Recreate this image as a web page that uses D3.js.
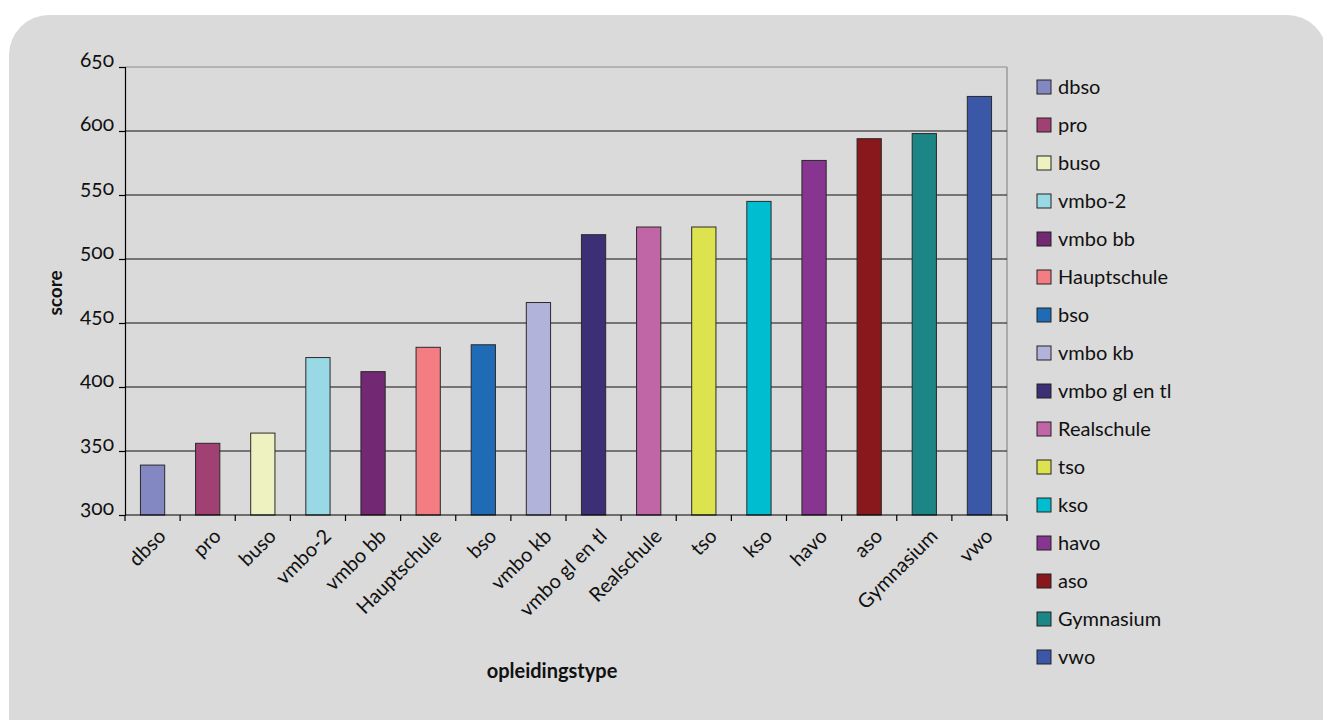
<!DOCTYPE html>
<html>
<head>
<meta charset="utf-8">
<script src="https://cdn.jsdelivr.net/npm/d3@7"></script>
<style>
  html, body { margin: 0; padding: 0; background: #ffffff; }
  svg { display: block; font-family: Lato, "Open Sans", sans-serif; }
  .num { font-variant-numeric: oldstyle-nums; font-feature-settings: "onum" 1; }
</style>
</head>
<body>
<svg id="chart" width="1323" height="720"></svg>
<script>
const categories = ["dbso","pro","buso","vmbo-2","vmbo bb","Hauptschule","bso","vmbo kb","vmbo gl en tl","Realschule","tso","kso","havo","aso","Gymnasium","vwo"];
const scores = [339, 356, 364, 423, 412, 431, 433, 466, 519, 525, 525, 545, 577, 594, 598, 627];
const colors = ["#8388c3","#a14073","#eef2c0","#99d9e5","#722873","#f47d83","#1f6bb5","#b1b3da","#3d2f75","#c066a6","#dde34f","#00bdcf","#883491","#88181b","#1c8585","#3b58a8"];
const yTicks = [300, 350, 400, 450, 500, 550, 600, 650];
const yTitle = "score";
const xTitle = "opleidingstype";

const svg = d3.select("#chart");

// panel background
svg.append("rect")
  .attr("x", 9).attr("y", 15)
  .attr("width", 1318).attr("height", 800)
  .attr("rx", 40).attr("ry", 40)
  .attr("fill", "#dadada");

const plot = {left: 125, right: 1007, top: 67, bottom: 515};

const x = d3.scaleBand().domain(categories).range([plot.left, plot.right]).padding(0);
const y = d3.scaleLinear().domain([300, 650]).range([plot.bottom, plot.top]);

// plot frame (top & right)
svg.append("line").attr("x1", plot.left).attr("x2", plot.right)
  .attr("y1", y(650)).attr("y2", y(650)).attr("stroke", "#8c8c8c").attr("stroke-width", 1.2);
svg.append("line").attr("x1", plot.right).attr("x2", plot.right)
  .attr("y1", y(650)).attr("y2", plot.bottom + 6).attr("stroke", "#8c8c8c").attr("stroke-width", 1.2);

// gridlines
svg.append("g").selectAll("line")
  .data(yTicks.filter(t => t > 300 && t < 650))
  .join("line")
  .attr("x1", plot.left).attr("x2", plot.right)
  .attr("y1", d => y(d)).attr("y2", d => y(d))
  .attr("stroke", "#111").attr("stroke-width", 1);

// bars
const bw = x.bandwidth();
svg.append("g").selectAll("rect")
  .data(categories)
  .join("rect")
  .attr("x", d => x(d) + bw * 0.28)
  .attr("width", bw * 0.44)
  .attr("y", (d, i) => y(scores[i]))
  .attr("height", (d, i) => y(300) - y(scores[i]))
  .attr("fill", (d, i) => colors[i])
  .attr("stroke", "#2a2a2a").attr("stroke-width", 1);

// y axis
const yAxis = d3.axisLeft(y).tickValues(yTicks).tickSize(6).tickPadding(5);
const gy = svg.append("g").attr("transform", `translate(${plot.left},0)`).call(yAxis);
gy.attr("font-family", null).attr("font-size", null);
gy.select(".domain").attr("stroke", "#000").attr("stroke-width", 1.2);
gy.selectAll(".tick line").attr("stroke", "#000").attr("stroke-width", 1.2);
gy.selectAll(".tick text")
  .attr("class", "num")
  .attr("font-size", 21).attr("fill", "#111")
  .attr("dy", "-0.02em");

// x axis line
svg.append("line").attr("x1", plot.left).attr("x2", plot.right)
  .attr("y1", plot.bottom).attr("y2", plot.bottom)
  .attr("stroke", "#000").attr("stroke-width", 1.2);

// x ticks at band boundaries
const bounds = categories.map(c => x(c)).concat([x(categories[categories.length - 1]) + bw]);
svg.append("g").selectAll("line")
  .data(bounds)
  .join("line")
  .attr("x1", d => d).attr("x2", d => d)
  .attr("y1", plot.bottom).attr("y2", plot.bottom + 6)
  .attr("stroke", "#000").attr("stroke-width", 1.2);

// x labels
svg.append("g").selectAll("text")
  .data(categories)
  .join("text")
  .attr("transform", d => `translate(${x(d) + bw / 2 + 6},${plot.bottom + 14}) rotate(-45)`)
  .attr("text-anchor", "end")
  .attr("dy", "0.6em")
  .attr("font-size", 20)
  .attr("fill", "#111")
  .text(d => d);

// axis titles
svg.append("text")
  .attr("transform", `translate(62,${(plot.top + plot.bottom) / 2 + 2}) rotate(-90)`)
  .attr("text-anchor", "middle")
  .attr("font-size", 19).attr("font-weight", "bold").attr("fill", "#111")
  .text(yTitle);

svg.append("text")
  .attr("x", 552).attr("y", 678)
  .attr("text-anchor", "middle")
  .attr("font-size", 20).attr("font-weight", "bold").attr("fill", "#111")
  .text(xTitle);

// legend
const legend = svg.append("g").attr("transform", "translate(1037,87)");
const rows = legend.selectAll("g")
  .data(categories)
  .join("g")
  .attr("transform", (d, i) => `translate(0,${i * 38})`);
rows.append("rect")
  .attr("x", 0).attr("y", -7)
  .attr("width", 14).attr("height", 14)
  .attr("fill", (d, i) => colors[i])
  .attr("stroke", "#222").attr("stroke-width", 1);
rows.append("text")
  .attr("x", 21).attr("y", 0)
  .attr("dy", "0.36em")
  .attr("font-size", 20).attr("fill", "#111")
  .text(d => d);
</script>
</body>
</html>
